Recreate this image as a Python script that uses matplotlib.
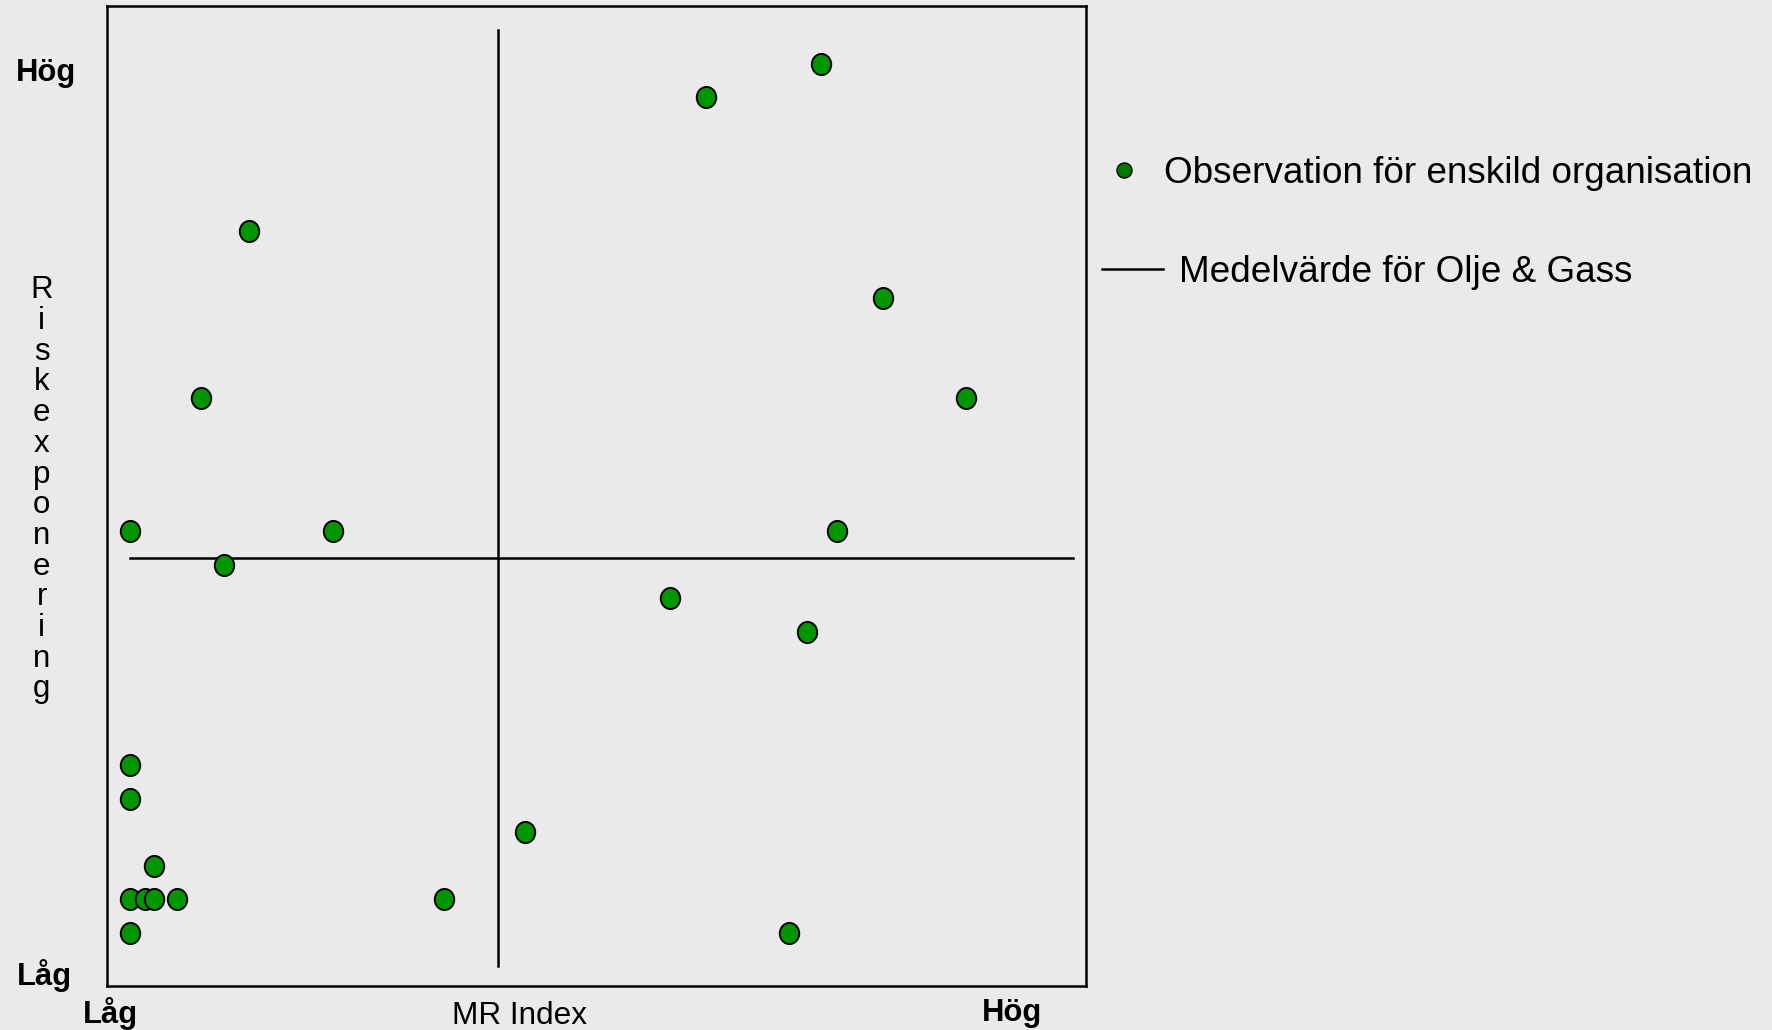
"""
MR Index vs riskexponering - scatter with mean lines (Olje & Gass).
"""

import matplotlib
matplotlib.use('Agg')
import matplotlib.pyplot as plt
from matplotlib.path import Path
from matplotlib.markers import MarkerStyle
from matplotlib.transforms import Affine2D
from matplotlib.lines import Line2D

plt.rcParams['font.family'] = ['Liberation Sans', 'DejaVu Sans']

# observations (MR index on x, risk exposure on y, arbitrary units)
mr_index = [29.33, 24.43, 5.04, 31.96, 3.02, 35.46, 0.0, 8.63, 29.98, 3.98,
            22.93, 28.73, 0.0, 0.0, 16.74, 1.01, 0.0, 0.62, 1.01, 2.01,
            13.33, 0.0, 27.96]
risk_exp = [27, 26, 22, 20, 17, 17, 13, 13, 13, 12,
            11, 10, 6, 5, 4, 3, 2, 2, 2, 2,
            2, 1, 1]

# sector mean (Olje & Gass) and extent of the mean lines
mean_mr   = 15.61
mean_risk = 12.21
mr_span   = (0, 40)
risk_span = (0, 28)

dot_label  = 'Observation för enskild organisation'
line_label = 'Medelvärde för Olje & Gass'
y_title    = 'Riskexponering'
x_title    = 'MR Index'
low_txt, high_txt = 'Låg', 'Hög'

BG       = '#EAEAEA'
GREEN    = '#009600'
GREEN_LG = '#007700'
W, H     = 1772, 1030


def fx(px):
    return px / W


def fy(py):
    return 1 - py / H


fig = plt.figure(figsize=(W / 100, H / 100), dpi=100, facecolor=BG)
ax = fig.add_axes([fx(107), fy(985.7), fx(1086) - fx(107), fy(5.7) - fy(985.7)])
ax.set_facecolor(BG)
ax.set_xlim(-0.976, 40.56)
ax.set_ylim(-0.589, 28.73)
ax.set_xticks([])
ax.set_yticks([])
for sp in ax.spines.values():
    sp.set_linewidth(1.8)
    sp.set_color('black')

# mean lines
ax.plot(mr_span, [mean_risk, mean_risk], color='black', lw=1.8, zorder=2)
ax.plot([mean_mr, mean_mr], risk_span, color='black', lw=1.8, zorder=2)

# slightly oval markers like the original
oval = Path.unit_circle().transformed(Affine2D().scale(0.92, 1.0))
ax.scatter(mr_index, risk_exp, marker=MarkerStyle(oval), s=15.2 ** 2,
           facecolor=GREEN, edgecolor='black', linewidth=1.4, zorder=3)

# legend, two single-entry legends so each row sits where it should
fs_leg = 26.6
h_dot = Line2D([], [], ls='none', marker='o', markersize=10.8,
               markerfacecolor=GREEN_LG, markeredgecolor='black', markeredgewidth=1.0)
h_line = Line2D([], [], color='black', lw=1.8)
leg1 = ax.legend([h_dot], [dot_label], loc='center left',
                 bbox_to_anchor=(fx(1109.2), fy(173.5)), bbox_transform=fig.transFigure,
                 frameon=False, fontsize=fs_leg, borderpad=0, borderaxespad=0,
                 handlelength=0.8, handletextpad=0.68)
ax.add_artist(leg1)
ax.legend([h_line], [line_label], loc='center left',
          bbox_to_anchor=(fx(1102), fy(272)), bbox_transform=fig.transFigure,
          frameon=False, fontsize=fs_leg, borderpad=0, borderaxespad=0,
          handlelength=1.65, handletextpad=0.44)

# axis end labels
fs_lab = 22.3
fig.text(fx(46), fy(72.5), high_txt, fontsize=fs_lab, fontweight='bold', ha='center', va='center')
fig.text(fx(44.6), fy(975), low_txt, fontsize=fs_lab, fontweight='bold', ha='center', va='center')
fig.text(fx(110.6), fy(1013.5), low_txt, fontsize=fs_lab, fontweight='bold', ha='center', va='center')
fig.text(fx(1011.7), fy(1013.5), high_txt, fontsize=fs_lab, fontweight='bold', ha='center', va='center')
fig.text(fx(520), fy(1016), x_title, fontsize=22.7, ha='center', va='center')

# y title written as stacked letters
for i, ch in enumerate(y_title):
    fig.text(fx(41.7), fy(298.3 + i * 30.7), ch, fontsize=22.5,
             ha='center', va='baseline')

fig.savefig('out.png', dpi=100, facecolor=BG)
